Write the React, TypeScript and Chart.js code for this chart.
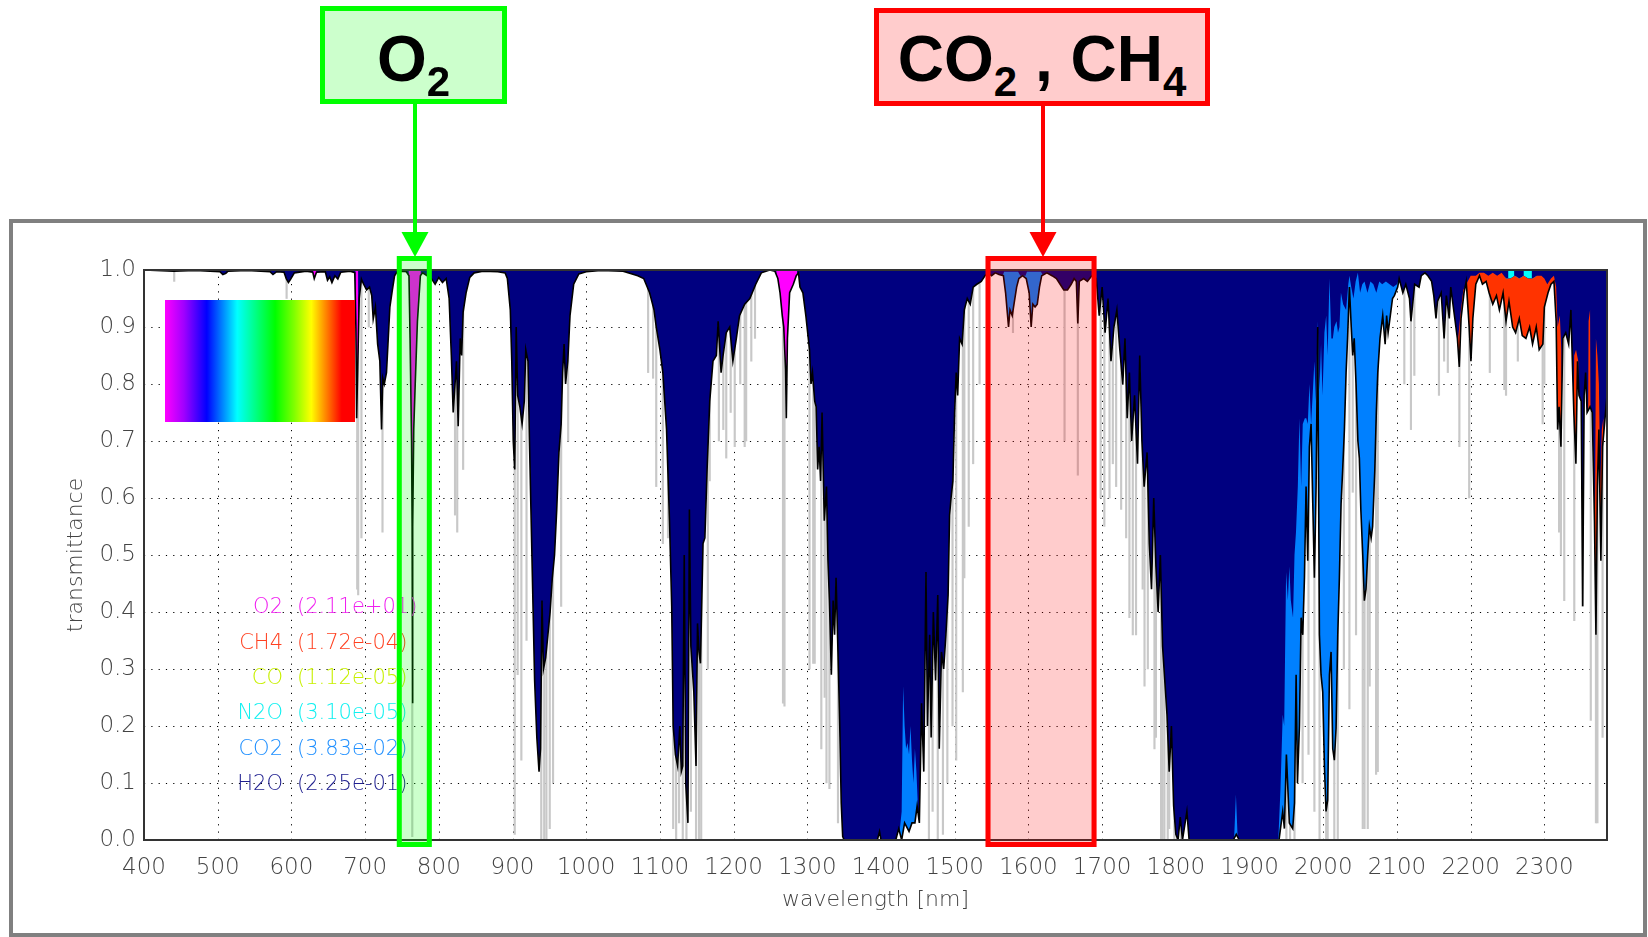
import React, { useEffect, useRef } from 'react';
import { Chart, registerables } from 'chart.js';

Chart.register(...registerables);

// ---------------- data ----------------
// total transmittance [wavelength nm, transmittance]
const TRANSMITTANCE: [number, number][] = [
  [400, 1.0], [440, 0.998], [470, 0.999], [503, 0.997], [507, 0.992], [511, 0.994], [514, 0.998], [540, 0.999],
  [571, 0.997], [575, 0.992], [580, 0.997], [590, 0.996], [593, 0.985], [596, 0.978], [599, 0.984], [604, 0.995],
  [620, 0.998], [629, 0.996], [631, 0.985], [634, 0.996], [646, 0.997], [649, 0.982], [652, 0.988], [655, 0.978],
  [659, 0.99], [663, 0.984], [667, 0.996], [680, 0.998], [686, 0.995], [687.5, 0.9], [688.5, 0.74], [690, 0.83],
  [692, 0.95], [695, 0.984], [698, 0.975], [702, 0.965], [706, 0.97], [709, 0.955], [711, 0.914], [714, 0.935],
  [717, 0.87], [720, 0.84], [722.3, 0.72], [724, 0.81], [726, 0.8], [729, 0.82], [731, 0.87], [733.6, 0.935],
  [737, 0.965], [740, 0.99], [743, 0.996], [750, 0.998], [756, 0.997], [759.5, 0.99], [761, 0.88], [763, 0.7],
  [763.9, 0.55], [764.3, 0.24], [764.7, 0.55], [766, 0.72], [768, 0.8], [771, 0.91], [775, 0.99], [778, 0.995], [790, 0.985], [795, 0.975],
  [800, 0.987], [805, 0.978], [810, 0.985], [814, 0.95], [817, 0.85], [819.5, 0.75], [822, 0.8], [824, 0.84],
  [826.3, 0.726], [829, 0.88], [831, 0.85], [833, 0.926], [837, 0.96], [842, 0.987], [848, 0.995], [860, 0.998],
  [880, 0.997], [890, 0.995], [893, 0.985], [897, 0.93], [899, 0.84], [901, 0.7], [903, 0.65], [905, 0.9],
  [907, 0.78], [910, 0.76], [913, 0.73], [916, 0.77], [918, 0.86], [921, 0.84], [923, 0.7], [925, 0.58],
  [928, 0.4], [930, 0.28], [933, 0.18], [936, 0.12], [938, 0.16], [940, 0.42], [942, 0.3], [945, 0.32],
  [948, 0.36], [951, 0.4], [954, 0.46], [957, 0.5], [960, 0.58], [963, 0.68], [966, 0.73], [968, 0.82],
  [970, 0.87], [972, 0.8], [975, 0.84], [978, 0.92], [983, 0.975], [990, 0.993], [1000, 0.997], [1020, 0.999],
  [1050, 0.998], [1070, 0.99], [1078, 0.985], [1086, 0.96], [1092, 0.93], [1095, 0.9], [1100, 0.86], [1104, 0.82],
  [1109, 0.72], [1113, 0.56], [1116, 0.41], [1118, 0.2], [1121, 0.15], [1124, 0.13], [1127, 0.2], [1129, 0.12],
  [1131, 0.13], [1133, 0.5], [1135, 0.1], [1138, 0.03], [1140, 0.58], [1142, 0.34], [1146, 0.26], [1149, 0.13],
  [1151, 0.38], [1153, 0.33], [1155, 0.31], [1158.5, 0.52], [1161, 0.53], [1164, 0.65], [1167.6, 0.77], [1172, 0.84],
  [1176.6, 0.85], [1179, 0.91], [1183, 0.82], [1185.7, 0.85], [1190, 0.89], [1194.7, 0.9], [1199, 0.84], [1203.7, 0.88],
  [1208, 0.92], [1215, 0.94], [1222, 0.95], [1230, 0.975], [1237.6, 0.995], [1249, 1.0], [1256, 0.998], [1260, 0.985],
  [1263, 0.96], [1266, 0.92], [1268, 0.9], [1270.5, 0.825], [1271.5, 0.74], [1273, 0.88], [1276, 0.96], [1281, 0.975],
  [1285, 0.99], [1288, 0.995], [1290, 0.97], [1294, 0.96], [1298, 0.92], [1303, 0.86], [1305, 0.8], [1307, 0.82],
  [1310, 0.77], [1312, 0.76], [1314, 0.65], [1316, 0.69], [1318, 0.63], [1320, 0.75], [1323, 0.56], [1326, 0.62],
  [1328, 0.49], [1330, 0.42], [1332.6, 0.29], [1335, 0.42], [1337, 0.36], [1339, 0.46], [1341.6, 0.33], [1344, 0.2],
  [1346, 0.065], [1348, 0.006], [1350, 0.0], [1395, 0.0], [1398, 0.015], [1400, 0.0], [1420, 0.0], [1424, 0.02],
  [1428, 0.0], [1432, 0.03], [1438, 0.015], [1442, 0.03], [1446, 0.03], [1449, 0.06], [1452, 0.03], [1455, 0.24],
  [1458, 0.12], [1461, 0.47], [1463, 0.2], [1466, 0.36], [1468, 0.18], [1471, 0.4], [1474, 0.28], [1477, 0.43],
  [1479, 0.16], [1482, 0.33], [1485, 0.3], [1488, 0.36], [1491, 0.43], [1493, 0.57], [1495, 0.6], [1497.5, 0.63],
  [1499.8, 0.75], [1502, 0.82], [1504, 0.78], [1506.6, 0.88], [1510, 0.87], [1513, 0.93], [1517, 0.95], [1521, 0.94],
  [1525, 0.97], [1530, 0.975], [1536, 0.98], [1541, 0.99], [1545, 0.995], [1550, 0.99], [1555, 0.995], [1560, 0.992],
  [1566, 0.99], [1569, 0.96], [1571, 0.93], [1573, 0.9], [1575, 0.93], [1578, 0.92], [1581, 0.945], [1584, 0.97],
  [1587, 0.985], [1592, 0.99], [1597, 0.985], [1601, 0.96], [1603.7, 0.9], [1606, 0.94], [1609, 0.935], [1612, 0.94],
  [1615, 0.97], [1618, 0.99], [1625, 0.995], [1632, 0.99], [1638, 0.985], [1643, 0.975], [1648, 0.965], [1653, 0.965],
  [1658, 0.975], [1662, 0.985], [1665, 0.98], [1667, 0.906], [1669, 0.98], [1675, 0.985], [1680, 0.98], [1686, 0.99],
  [1692, 0.985], [1696, 0.92], [1700, 0.97], [1704, 0.89], [1708, 0.95], [1712, 0.84], [1716, 0.9], [1720, 0.93],
  [1724, 0.86], [1728, 0.8], [1731, 0.88], [1734, 0.74], [1737, 0.82], [1740, 0.7], [1744, 0.78], [1748, 0.66],
  [1751, 0.85], [1754, 0.7], [1757, 0.62], [1761, 0.68], [1764, 0.52], [1767, 0.44], [1770, 0.6], [1773, 0.48],
  [1776, 0.4], [1779, 0.5], [1782, 0.34], [1785, 0.28], [1788, 0.22], [1791, 0.12], [1794, 0.2], [1797, 0.06],
  [1800, 0.01], [1803, 0.0], [1806, 0.04], [1809, 0.0], [1815, 0.05], [1818, 0.0], [1878, 0.0], [1882, 0.01],
  [1886, 0.0], [1940, 0.0], [1945, 0.05], [1947.3, 0.02], [1950, 0.15], [1954, 0.03], [1958.6, 0.02], [1961, 0.065],
  [1963.2, 0.29], [1965, 0.1], [1967.7, 0.2], [1970, 0.39], [1972.2, 0.36], [1974.5, 0.46], [1976.7, 0.62], [1979, 0.49],
  [1981.2, 0.69], [1983.5, 0.73], [1985.8, 0.59], [1988, 0.46], [1990.3, 0.62], [1992.5, 0.9], [1994.8, 0.36], [1997, 0.29],
  [1999.3, 0.26], [2001.6, 0.13], [2003.8, 0.05], [2006, 0.07], [2008.4, 0.29], [2010.6, 0.33], [2012.9, 0.16], [2015.1, 0.14],
  [2017.4, 0.196], [2019.7, 0.36], [2021.9, 0.46], [2024.2, 0.59], [2026.4, 0.65], [2028.7, 0.72], [2031, 0.82], [2033, 0.88],
  [2035.5, 0.97], [2038, 0.9], [2040, 0.85], [2042, 0.88], [2044.5, 0.8], [2047, 0.7], [2049, 0.67], [2051, 0.58],
  [2053.6, 0.5], [2055.8, 0.42], [2058, 0.44], [2060.3, 0.5], [2062.6, 0.55], [2065, 0.53], [2067, 0.55], [2070, 0.65],
  [2072, 0.75], [2074, 0.82], [2077, 0.88], [2080.7, 0.92], [2084, 0.87], [2086, 0.92], [2088, 0.89], [2092, 0.93],
  [2094, 0.95], [2096.5, 0.955], [2101, 0.97], [2103, 0.985], [2108, 0.96], [2112, 0.975], [2117, 0.95], [2119, 0.91],
  [2124, 0.975], [2130, 0.97], [2133, 0.99], [2138, 0.995], [2142, 0.99], [2147, 0.98], [2150, 0.955], [2153, 0.915],
  [2155, 0.945], [2160, 0.96], [2164, 0.88], [2167, 0.955], [2171, 0.915], [2173, 0.97], [2178, 0.92], [2182, 0.88],
  [2184.6, 0.83], [2187, 0.915], [2191, 0.96], [2194, 0.98], [2198, 0.9], [2200.4, 0.84], [2203, 0.915], [2207, 0.975],
  [2212, 0.99], [2216, 0.975], [2221, 0.98], [2225, 0.96], [2230, 0.94], [2235, 0.955], [2239, 0.93], [2244, 0.96],
  [2248, 0.91], [2252, 0.945], [2257, 0.9], [2261, 0.89], [2266, 0.915], [2270, 0.885], [2275, 0.88], [2280, 0.9],
  [2284, 0.87], [2289, 0.9], [2293, 0.86], [2298, 0.87], [2300, 0.935], [2305, 0.96], [2309, 0.975], [2313, 0.98],
  [2316, 0.91], [2318, 0.72], [2320, 0.76], [2322.5, 0.69], [2325, 0.88], [2329, 0.89], [2333, 0.87], [2336, 0.93],
  [2340, 0.75], [2342.8, 0.66], [2345, 0.84], [2347, 0.78], [2350, 0.77], [2352, 0.41], [2354, 0.78], [2356, 0.82],
  [2358, 0.75], [2362, 0.76], [2365, 0.75], [2368, 0.56], [2370, 0.36], [2372, 0.62], [2374, 0.72], [2376.7, 0.49],
  [2379, 0.69], [2381, 0.72], [2385, 0.78],
];

// upper edge of each gas's absorption layer (stacked above the total curve)
const O2_LAYER: [number, number][] = [
  [620, 0], [628.5, 0], [629.2, 1], [633.8, 1], [634.5, 0], [685, 0], [686.4, 0], [687, 1], [690.5, 1], [691.5, 0],
  [755, 0], [758.5, 0], [759.2, 1], [775.5, 1], [776.5, 0], [1250, 0], [1256, 0], [1258, 1], [1286, 1], [1287.5, 0], [1300, 0],
];

const CO2_LAYER: [number, number][] = [
  [1424, 0], [1428, 0.05], [1430, 0.27], [1432, 0.2], [1434, 0.16], [1436, 0.17], [1438, 0.15], [1440, 0.2],
  [1442, 0.14], [1444, 0.1], [1446, 0.16], [1448, 0.12], [1451, 0.03], [1453, 0],
  [1563, 0], [1565, 0.99], [1567, 0.997], [1586, 0.997], [1589, 0.99], [1596, 0.99], [1598, 0.997], [1617, 0.997], [1620, 0.99], [1622, 0],
  [1879, 0], [1881.5, 0.08], [1884, 0],
  [1939, 0], [1942, 0.09], [1945, 0.22], [1947, 0.2], [1949.6, 0.47], [1952, 0.42], [1954, 0.48], [1956, 0.42],
  [1959, 0.39], [1961, 0.5], [1963, 0.54], [1965.5, 0.62], [1967.7, 0.74], [1970, 0.62], [1972.2, 0.73], [1975, 0.74],
  [1977, 0.74], [1979, 0.73], [1981.3, 0.8], [1983.5, 0.73], [1986, 0.79], [1988, 0.84], [1990, 0.77], [1992.5, 0.91],
  [1995, 0.79], [1997, 0.87], [1999, 0.78], [2001.6, 0.89], [2004, 0.92], [2006, 0.85], [2008.4, 0.985], [2011, 0.88],
  [2013, 0.88], [2015, 0.9], [2018, 0.91], [2020, 0.89], [2022, 0.9], [2024, 0.96], [2027, 0.94], [2031, 0.93],
  [2034, 0.975], [2035.5, 0.99], [2038, 0.97], [2041, 0.95], [2044, 0.98], [2047, 0.995], [2050, 0.96], [2053, 0.975],
  [2056, 0.98], [2060, 0.96], [2064, 0.98], [2068, 0.975], [2072, 0.96], [2076, 0.98], [2080, 0.975], [2085, 0.98],
  [2090, 0.975], [2095, 0.97], [2100, 0.975], [2103, 0.985], [2105, 0],
];

const CH4_LAYER: [number, number][] = [
  [2180, 0], [2183, 0.88], [2186, 0.92], [2190, 0.965], [2196, 0.98], [2200, 0.99], [2207, 0.99], [2212, 0.995],
  [2218, 0.995], [2224, 0.99], [2230, 0.995], [2236, 0.99], [2242, 0.995], [2248, 0.985], [2254, 0.985], [2260, 0.99],
  [2266, 0.985], [2272, 0.99], [2278, 0.985], [2284, 0.985], [2290, 0.99], [2296, 0.99], [2300, 0.985], [2304, 0.975],
  [2309, 0.985], [2313, 0.99], [2316, 0.97], [2318, 0.9], [2321, 0.92], [2323, 0.86], [2325.5, 0.5], [2338.5, 0.5],
  [2340.5, 0.85], [2343, 0.86], [2346, 0.84], [2348, 0.5], [2358.5, 0.5], [2360, 0.91], [2362, 0.93], [2363.5, 0.5],
  [2368.5, 0.5], [2370, 0.88], [2372, 0.85], [2374, 0.8], [2376, 0.62], [2378, 0.72], [2380, 0.74], [2382, 0.5], [2385, 0.5],
];

const N2O_LAYER: [number, number][] = [
  [2246, 0], [2249, 0], [2251, 1], [2259, 1], [2261, 0], [2268, 0], [2270, 0], [2272, 1], [2283, 1], [2285, 0], [2290, 0],
];

// high-resolution line cores (light grey): wavelength and lowest transmittance
const SPIKE_WL = [441, 593.5, 689.3, 690.6, 695, 705, 723.6, 764, 822, 825, 833, 903, 907, 912, 919, 939, 943, 946, 950.5, 955, 966, 975.5,
  1084, 1090.7, 1095, 1104, 1111, 1118, 1122, 1126, 1131, 1136, 1142, 1149, 1153, 1156, 1165, 1167.6, 1180, 1186, 1190, 1196, 1201.5, 1209, 1215, 1217, 1224, 1229,
  1267, 1269, 1303, 1308, 1310, 1319, 1323.5, 1326, 1330, 1341.6, 1465, 1470, 1477, 1484, 1490, 1497, 1502, 1511, 1513, 1519, 1525, 1533.7, 1579, 1649, 1667,
  1698, 1703, 1710, 1714.5, 1719, 1725.8, 1732.6, 1737, 1741.6, 1746, 1755, 1757.5, 1762, 1771, 1773, 1780, 1782, 1784.5, 1789, 1791, 1798, 1807,
  1950, 1955, 1961, 1972, 1980, 1988, 1995, 2004, 2006, 2015, 2019.7, 2028, 2035.5, 2040, 2044.5, 2053.6, 2056, 2060.4, 2063, 2071.7, 2074,
  2110, 2119, 2123.6, 2157, 2164, 2169, 2184.7, 2198, 2226, 2245.7, 2248, 2264, 2297.7, 2300, 2320, 2322.5, 2327, 2340.6, 2352, 2363, 2370, 2372, 2379];
const SPIKE_LOW = [0.98, 0.95, 0.44, 0.43, 0.53, 0.9, 0.54, 0.006, 0.57, 0.54, 0.65, 0.01, 0.29, 0.14, 0.35, 0, 0, 0, 0.02, 0.1, 0.41, 0.7,
  0.82, 0.81, 0.62, 0.52, 0.53, 0.02, 0, 0.03, 0, 0, 0.05, 0, 0, 0, 0.3, 0.63, 0.7, 0.72, 0.67, 0.75, 0.69, 0.8, 0.69, 0.7, 0.84, 0.88,
  0.24, 0.235, 0.3, 0.31, 0.31, 0.16, 0.25, 0.1, 0.09, 0.03, 0.0, 0.05, 0, 0.01, 0.1, 0.2, 0.14, 0.26, 0.46, 0.55, 0.66, 0.8, 0.89, 0.7, 0.64,
  0.6, 0.55, 0.6, 0.66, 0.62, 0.58, 0.53, 0.39, 0.36, 0.36, 0.44, 0.27, 0.3, 0.16, 0.18, 0, 0, 0, 0, 0.02, 0, 0,
  0, 0, 0, 0.1, 0.15, 0.05, 0, 0, 0, 0, 0, 0.3, 0.23, 0.61, 0.36, 0.02, 0.02, 0.02, 0.27, 0.115, 0.12,
  0.8, 0.72, 0.815, 0.78, 0.84, 0.82, 0.69, 0.6, 0.82, 0.79, 0.78, 0.84, 0.73, 0.8, 0.54, 0.5, 0.42, 0.385, 0.41, 0.21, 0.03, 0.03, 0.18];

const X_TICKS = [400, 500, 600, 700, 800, 900, 1000, 1100, 1200, 1300, 1400, 1500, 1600, 1700, 1800, 1900, 2000, 2100, 2200, 2300];
const Y_TICKS = [0.0, 0.1, 0.2, 0.3, 0.4, 0.5, 0.6, 0.7, 0.8, 0.9, 1.0];

const GAS_NAMES = ['O2', 'CH4', 'CO', 'N2O', 'CO2', 'H2O'];
const GAS_AMOUNTS = ['(2.11e+01)', '(1.72e-04)', '(1.12e-05)', '(3.10e-05)', '(3.83e-02)', '(2.25e-01)'];
const GAS_TEXT_COLORS = ['#f020f0', '#ff4020', '#c8f000', '#10f0f0', '#2090ff', '#202090'];

const COLORBAR_STOPS: [number, string][] = [
  [0, '#ff00ff'], [0.1, '#a000ff'], [0.22, '#0000ff'], [0.3, '#0080ff'], [0.38, '#00ffff'], [0.48, '#00ff80'],
  [0.58, '#00ff00'], [0.68, '#80ff00'], [0.77, '#ffff00'], [0.85, '#ff8000'], [0.93, '#ff0000'], [1, '#ff0000'],
];

// ---------------- styling ----------------
const NAVY = '#000080';
const CO2_COLOR = '#0080ff';
const O2_COLOR = '#ff00ff';
const CH4_COLOR = '#ff3300';
const N2O_COLOR = '#00ffff';
const NONE = 'rgba(0,0,0,0)';
const FONT = '"DejaVu Sans", sans-serif';
const TEXT_COLOR = '#444';

const toXY = (pairs: [number, number][]) => pairs.map(([x, y]) => ({ x, y }));

const decorPlugin = {
  id: 'decor',
  beforeDraw(chart: any) {
    const ctx = chart.ctx;
    ctx.save();
    ctx.strokeStyle = '#808080';
    ctx.lineWidth = 4;
    ctx.strokeRect(11, 221, 1634, 714);
    ctx.restore();
  },
  beforeDatasetsDraw(chart: any) {
    const { ctx, chartArea: a, scales } = chart;
    ctx.save();
    ctx.strokeStyle = '#000';
    ctx.lineWidth = 1;
    ctx.setLineDash([1.2, 6.1]);
    X_TICKS.forEach((v) => {
      const px = Math.round(scales.x.getPixelForValue(v)) + 0.5;
      ctx.beginPath();
      ctx.moveTo(px, a.bottom);
      ctx.lineTo(px, a.top);
      ctx.stroke();
    });
    Y_TICKS.forEach((v) => {
      const py = Math.round(scales.y.getPixelForValue(v)) + 0.5;
      ctx.beginPath();
      ctx.moveTo(a.left, py);
      ctx.lineTo(a.right, py);
      ctx.stroke();
    });
    ctx.restore();
  },
  afterDatasetsDraw(chart: any) {
    const { ctx, chartArea: a } = chart;
    ctx.save();
    // colour bar
    const cx = a.left + 21, cy = a.top + 30, cw = 190, ch = 122;
    const g = ctx.createLinearGradient(cx, 0, cx + cw, 0);
    COLORBAR_STOPS.forEach(([o, c]) => g.addColorStop(o, c));
    ctx.fillStyle = g;
    ctx.fillRect(cx, cy, cw, ch);
    // plot frame
    ctx.strokeStyle = '#333';
    ctx.lineWidth = 2;
    ctx.strokeRect(a.left, a.top, a.right - a.left, a.bottom - a.top);
    // gas legend
    ctx.font = `300 21px ${FONT}`;
    ctx.textBaseline = 'middle';
    GAS_NAMES.forEach((n, i) => {
      const yy = 608 + i * 35.3;
      ctx.fillStyle = GAS_TEXT_COLORS[i];
      ctx.textAlign = 'right';
      ctx.fillText(n, a.left + 139, yy);
      ctx.textAlign = 'left';
      ctx.fillText(GAS_AMOUNTS[i], a.left + 153, yy);
    });
    ctx.restore();
  },
  afterDraw(chart: any) {
    const { ctx, chartArea: a, scales } = chart;
    const boxes = [
      { from: 743, to: 790.5, fill: 'rgba(0,255,0,0.2)', line: '#00ff00', ax: 415, ay0: 104 },
      { from: 1541.8, to: 1692.4, fill: 'rgba(255,0,0,0.2)', line: '#ff0000', ax: 1043, ay0: 106 },
    ];
    ctx.save();
    boxes.forEach((b) => {
      const x0 = scales.x.getPixelForValue(b.from);
      const x1 = scales.x.getPixelForValue(b.to);
      const y0 = a.top - 14;
      const y1 = a.bottom + 7;
      ctx.fillStyle = b.fill;
      ctx.fillRect(x0, y0, x1 - x0, y1 - y0);
      ctx.strokeStyle = b.line;
      ctx.lineWidth = 5;
      ctx.strokeRect(x0 + 2.5, y0 + 2.5, x1 - x0 - 5, y1 - y0 - 5);
      // arrow
      ctx.lineWidth = 4;
      ctx.beginPath();
      ctx.moveTo(b.ax, b.ay0);
      ctx.lineTo(b.ax, 234);
      ctx.stroke();
      ctx.fillStyle = b.line;
      ctx.beginPath();
      ctx.moveTo(b.ax - 13.5, 232);
      ctx.lineTo(b.ax + 13.5, 232);
      ctx.lineTo(b.ax, y0 + 1);
      ctx.closePath();
      ctx.fill();
    });
    ctx.restore();
  },
};

export default function App() {
  const ref = useRef<HTMLCanvasElement>(null);

  useEffect(() => {
    const canvas = ref.current;
    if (!canvas) return;
    const total = toXY(TRANSMITTANCE);
    const spikes = SPIKE_WL.map((w, i) => ({ x: w, y: [SPIKE_LOW[i], 1] }));
    const lineBase = { type: 'line', pointRadius: 0, tension: 0, borderColor: NONE, borderWidth: 0 };

    const chart = new Chart(canvas, {
      type: 'line',
      data: {
        datasets: [
          { ...lineBase, label: 'total', data: total, borderColor: '#000', borderWidth: 1.6, fill: false, order: 0 },
          { ...lineBase, label: 'H2O', data: total, backgroundColor: NAVY, fill: { value: 1 }, order: 6 },
          { ...lineBase, label: 'CO2', data: toXY(CO2_LAYER), backgroundColor: CO2_COLOR, fill: { target: 0, above: CO2_COLOR, below: NONE }, order: 4 },
          { ...lineBase, label: 'O2', data: toXY(O2_LAYER), backgroundColor: O2_COLOR, fill: { target: 0, above: O2_COLOR, below: NONE }, order: 4 },
          { ...lineBase, label: 'CH4', data: toXY(CH4_LAYER), backgroundColor: CH4_COLOR, fill: { target: 0, above: CH4_COLOR, below: NONE }, order: 4 },
          { ...lineBase, label: 'N2O', data: toXY(N2O_LAYER), backgroundColor: N2O_COLOR, fill: { target: 4, above: N2O_COLOR, below: NONE }, order: 3 },
          { type: 'bar', label: 'lines', data: spikes, backgroundColor: '#c8c8c8', borderWidth: 0, barThickness: 1.5, order: 10 },
        ] as any,
      },
      options: {
        responsive: false,
        animation: false,
        devicePixelRatio: 1,
        events: [],
        layout: { padding: { left: 0, top: 270, right: 41, bottom: 0 } },
        plugins: { legend: { display: false }, tooltip: { enabled: false } },
        scales: {
          x: {
            type: 'linear',
            min: 400,
            max: 2385,
            offset: false,
            grid: { display: false, drawTicks: false, offset: false },
            border: { display: false },
            afterBuildTicks: (s: any) => { s.ticks = X_TICKS.map((v) => ({ value: v })); },
            afterFit: (s: any) => { s.height = 97; },
            ticks: {
              autoSkip: false, maxRotation: 0, minRotation: 0, padding: 14, color: TEXT_COLOR,
              font: { family: FONT, size: 23, weight: '300' },
              callback: (v: any) => String(v),
            },
            title: {
              display: true, text: 'wavelength [nm]', color: TEXT_COLOR,
              font: { family: FONT, size: 22, weight: '300' }, padding: { top: 0, bottom: 24 },
            },
          },
          y: {
            type: 'linear',
            min: 0,
            max: 1,
            grid: { display: false, drawTicks: false },
            border: { display: false },
            afterBuildTicks: (s: any) => { s.ticks = Y_TICKS.map((v) => ({ value: v })); },
            afterFit: (s: any) => { s.width = 144; },
            ticks: {
              padding: 8, color: TEXT_COLOR,
              font: { family: FONT, size: 23, weight: '300' },
              callback: (v: any) => Number(v).toFixed(1),
            },
            title: {
              display: true, text: 'transmittance', color: TEXT_COLOR,
              font: { family: FONT, size: 22, weight: '300' }, padding: { top: 63, bottom: 0 },
            },
          },
        },
      } as any,
      plugins: [decorPlugin as any],
    });
    return () => chart.destroy();
  }, []);

  const labelText: React.CSSProperties = {
    position: 'absolute', left: 0, right: 0, textAlign: 'center', whiteSpace: 'nowrap',
    fontFamily: '"Liberation Sans", Arial, sans-serif', fontWeight: 'bold', fontSize: 64, lineHeight: '64px', color: '#000',
  };
  const sub: React.CSSProperties = { fontSize: 42, verticalAlign: '-15px', lineHeight: 0 };

  return (
    <div style={{ position: 'fixed', left: 0, top: 0, width: 1648, height: 937, background: '#fff', overflow: 'hidden' }}>
      <canvas ref={ref} width={1648} height={937} style={{ position: 'absolute', left: 0, top: 0 }} />
      <div style={{ position: 'absolute', left: 320, top: 6, width: 187, height: 98, boxSizing: 'border-box', border: '5px solid #00ff00', background: '#ccffcc' }}>
        <div style={{ ...labelText, top: 16 }}>O<span style={sub}>2</span></div>
      </div>
      <div style={{ position: 'absolute', left: 874, top: 8, width: 336, height: 98, boxSizing: 'border-box', border: '5px solid #ff0000', background: '#ffcccc' }}>
        <div style={{ ...labelText, top: 14 }}>CO<span style={sub}>2</span> , CH<span style={sub}>4</span></div>
      </div>
    </div>
  );
}
